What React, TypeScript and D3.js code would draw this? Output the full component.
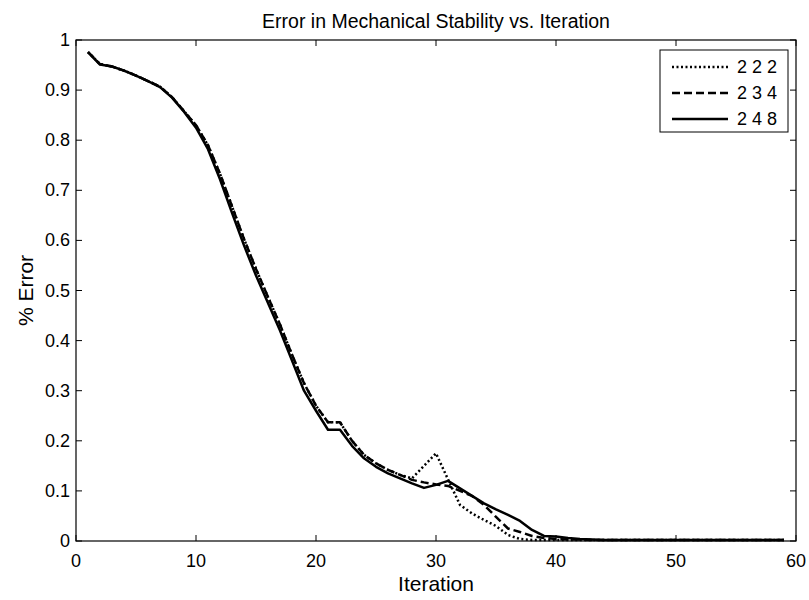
import React from "react";
import * as d3 from "d3";

const iterations: number[] = d3.range(1, 60);

// % Error per iteration
const series222: number[] = [
  0.976, 0.952, 0.947, 0.939, 0.929, 0.918, 0.907, 0.886, 0.858, 0.83,
  0.79, 0.733, 0.668, 0.603, 0.543, 0.487, 0.432, 0.372, 0.315, 0.27,
  0.237, 0.237, 0.2, 0.172, 0.155, 0.142, 0.132, 0.125, 0.15, 0.175,
  0.123, 0.072, 0.055, 0.042, 0.03, 0.012, 0.004, 0.002, 0.002, 0.002,
  0.002, 0.002, 0.002, 0.002, 0.002, 0.002, 0.002, 0.002, 0.002, 0.002,
  0.002, 0.002, 0.002, 0.002, 0.002, 0.002, 0.002, 0.002, 0.002,
];
const series234: number[] = [
  0.976, 0.952, 0.947, 0.939, 0.929, 0.918, 0.907, 0.886, 0.858, 0.83,
  0.79, 0.733, 0.668, 0.603, 0.543, 0.487, 0.432, 0.372, 0.315, 0.27,
  0.237, 0.237, 0.2, 0.172, 0.155, 0.142, 0.132, 0.122, 0.117, 0.113,
  0.11, 0.1, 0.09, 0.072, 0.048, 0.025, 0.018, 0.01, 0.006, 0.004,
  0.003, 0.003, 0.002, 0.002, 0.002, 0.002, 0.002, 0.002, 0.002, 0.002,
  0.002, 0.002, 0.002, 0.002, 0.002, 0.002, 0.002, 0.002, 0.002,
];
const series248: number[] = [
  0.976, 0.951, 0.947, 0.939, 0.929, 0.918, 0.906, 0.885, 0.857, 0.825,
  0.782, 0.722, 0.655, 0.59, 0.53, 0.475, 0.42, 0.36, 0.3, 0.26,
  0.222, 0.222, 0.19, 0.165, 0.148, 0.135, 0.125, 0.115, 0.106, 0.112,
  0.12, 0.105, 0.09, 0.075, 0.063, 0.052, 0.04, 0.022, 0.01, 0.009,
  0.006, 0.004, 0.003, 0.002, 0.002, 0.002, 0.002, 0.002, 0.002, 0.002,
  0.002, 0.002, 0.002, 0.002, 0.002, 0.002, 0.002, 0.002, 0.002,
];

const seriesNames: string[] = ["2 2 2", "2 3 4", "2 4 8"];
const seriesDash: string[] = ["2,2.5", "8,4", "none"];
const xTicks: number[] = [0, 10, 20, 30, 40, 50, 60];
const yTicks: number[] = [0, 0.1, 0.2, 0.3, 0.4, 0.5, 0.6, 0.7, 0.8, 0.9, 1];

const W = 809;
const H = 600;
const M = { left: 76, right: 796, top: 40, bottom: 541 };
const FONT = "'Liberation Sans', Arial, Helvetica, sans-serif";

export default function App() {
  const x = d3.scaleLinear().domain([0, 60]).range([M.left, M.right]);
  const y = d3.scaleLinear().domain([0, 1]).range([M.bottom, M.top]);
  const line = d3
    .line<number>()
    .x((_, i) => x(iterations[i]))
    .y((d) => y(d));
  const all = [series222, series234, series248];
  const tickLen = 6;
  const yFmt = (v: number) => (v === 0 || v === 1 ? String(v) : d3.format(".1f")(v));

  const legX = 660;
  const legY = 50;
  const legW = 128;
  const legH = 82;

  return (
    <svg
      width={W}
      height={H}
      style={{ position: "absolute", left: 0, top: 0, background: "#fff" }}
      fontFamily={FONT}
    >
      <rect x={0} y={0} width={W} height={H} fill="#fff" />
      {/* data lines */}
      <g fill="none" stroke="#000" strokeWidth={2.5} strokeLinejoin="round">
        {all.map((s, k) => (
          <path
            key={k}
            d={line(s) || ""}
            strokeDasharray={seriesDash[k] === "none" ? undefined : seriesDash[k]}
          />
        ))}
      </g>
      {/* axes box */}
      <rect
        x={M.left}
        y={M.top}
        width={M.right - M.left}
        height={M.bottom - M.top}
        fill="none"
        stroke="#000"
        strokeWidth={1.2}
      />
      {/* x ticks */}
      {xTicks.map((t) => (
        <g key={"x" + t}>
          <line x1={x(t)} x2={x(t)} y1={M.bottom} y2={M.bottom - tickLen} stroke="#000" />
          <line x1={x(t)} x2={x(t)} y1={M.top} y2={M.top + tickLen} stroke="#000" />
          <text x={x(t)} y={M.bottom + 26} textAnchor="middle" fontSize={18}>
            {t}
          </text>
        </g>
      ))}
      {/* y ticks */}
      {yTicks.map((t) => (
        <g key={"y" + t}>
          <line x1={M.left} x2={M.left + tickLen} y1={y(t)} y2={y(t)} stroke="#000" />
          <line x1={M.right} x2={M.right - tickLen} y1={y(t)} y2={y(t)} stroke="#000" />
          <text x={M.left - 6} y={y(t) + 6} textAnchor="end" fontSize={18}>
            {yFmt(t)}
          </text>
        </g>
      ))}
      {/* title & labels */}
      <text x={(M.left + M.right) / 2} y={28} textAnchor="middle" fontSize={19.5}>
        Error in Mechanical Stability vs. Iteration
      </text>
      <text x={(M.left + M.right) / 2} y={M.bottom + 50} textAnchor="middle" fontSize={21}>
        Iteration
      </text>
      <text
        transform={`translate(${33},${(M.top + M.bottom) / 2}) rotate(-90)`}
        textAnchor="middle"
        fontSize={21}
      >
        % Error
      </text>
      {/* legend */}
      <rect x={legX} y={legY} width={legW} height={legH} fill="#fff" stroke="#000" strokeWidth={1} />
      {seriesNames.map((n, k) => {
        const ly = legY + 17 + k * 26;
        return (
          <g key={n}>
            <line
              x1={legX + 12}
              x2={legX + 68}
              y1={ly}
              y2={ly}
              stroke="#000"
              strokeWidth={2.5}
              strokeDasharray={seriesDash[k] === "none" ? undefined : seriesDash[k]}
            />
            <text x={legX + 77} y={ly + 6} fontSize={18}>
              {n}
            </text>
          </g>
        );
      })}
    </svg>
  );
}
